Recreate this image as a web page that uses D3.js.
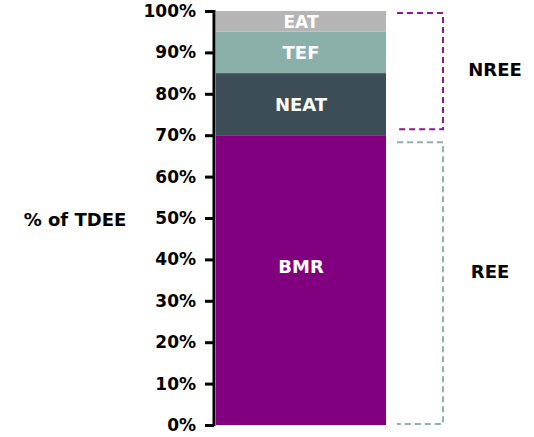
<!DOCTYPE html>
<html>
<head>
<meta charset="utf-8">
<script src="https://cdn.jsdelivr.net/npm/d3@7"></script>
<style>
  body { margin: 0; background: #fff; }
  text { font-family: "DejaVu Sans", sans-serif; font-weight: 700; }
</style>
</head>
<body>
<svg width="534" height="437"></svg>
<script>
// components of TDEE, bottom to top
const components = ["BMR", "NEAT", "TEF", "EAT"];
const shares = [70, 15, 10, 5];
const colors = ["#800080", "#3c4d57", "#8bb0aa", "#b5b5b5"];
const ticks = [0, 10, 20, 30, 40, 50, 60, 70, 80, 90, 100];
const groups = [
  { name: "REE", from: 0, to: 70, color: "#8fb0ad" },
  { name: "NREE", from: 70, to: 100, color: "#8b1a8b" }
];

const svg = d3.select("svg");

const y = d3.scaleLinear().domain([0, 100]).range([425, 11]);
const x = d3.scaleBand().domain(["TDEE"]).range([216, 386]).padding(0);

// stack the components
let acc = 0;
const stacked = components.map((c, i) => {
  const d = { name: c, y0: acc, y1: acc + shares[i], color: colors[i] };
  acc += shares[i];
  return d;
});

svg.selectAll("rect.seg")
  .data(stacked)
  .enter().append("rect")
  .attr("class", "seg")
  .attr("x", x("TDEE"))
  .attr("width", x.bandwidth())
  .attr("y", d => y(d.y1))
  .attr("height", d => y(d.y0) - y(d.y1))
  .attr("fill", d => d.color);

svg.selectAll("text.seg")
  .data(stacked)
  .enter().append("text")
  .attr("class", "seg")
  .attr("x", x("TDEE") + x.bandwidth() / 2)
  .attr("y", d => (y(d.y0) + y(d.y1)) / 2 + (d.name === "BMR" ? -12 : 2))
  .attr("text-anchor", "middle")
  .attr("dominant-baseline", "middle")
  .attr("fill", "#fff")
  .style("font-size", d => d.name === "EAT" ? "17px" : "18px")
  .text(d => d.name);

// y axis
const axis = svg.append("g")
  .attr("transform", "translate(214,0)")
  .call(d3.axisLeft(y).tickValues(ticks).tickFormat(d => d + "%").tickSize(9).tickPadding(9));

axis.select(".domain").attr("stroke", "#000").attr("stroke-width", 3)
  .attr("d", `M0,${y(100) - 1}V${y(0) + 1}`);
axis.selectAll(".tick line").attr("stroke", "#000").attr("stroke-width", 3);
axis.selectAll(".tick text")
  .attr("fill", "#000")
  .style("font-size", "17px")
  .style("font-family", "'DejaVu Sans', sans-serif")
  .style("font-weight", 700);

svg.append("text")
  .attr("x", 75)
  .attr("y", 221)
  .attr("text-anchor", "middle")
  .attr("dominant-baseline", "middle")
  .attr("fill", "#000")
  .style("font-size", "18px")
  .text("% of TDEE");

// dashed brackets
const bx0 = 397, bx1 = 443;
groups.forEach(g => {
  const top = y(g.to) + (g.to === 100 ? 2 : 7);
  const bot = y(g.from) - (g.from === 0 ? 1 : 6);
  svg.append("path")
    .attr("d", `M${bx0},${top}H${bx1}V${bot}H${bx0}`)
    .attr("fill", "none")
    .attr("stroke", g.color)
    .attr("stroke-width", 2)
    .attr("stroke-dasharray", "6,4");
  svg.append("text")
    .attr("x", g.name === "NREE" ? 495 : 490)
    .attr("y", (top + bot) / 2 + (g.name === "NREE" ? 0 : -10))
    .attr("text-anchor", "middle")
    .attr("dominant-baseline", "middle")
    .attr("fill", "#000")
    .style("font-size", "18px")
    .text(g.name);
});
</script>
</body>
</html>
